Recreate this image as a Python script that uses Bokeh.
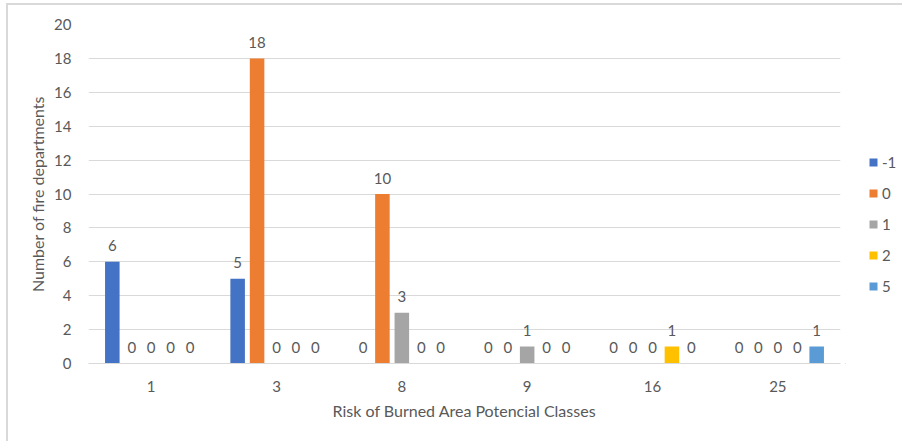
from bokeh.plotting import figure
from bokeh.layouts import row
from bokeh.models import ColumnDataSource, FactorRange, Legend, LegendItem
from bokeh.transform import dodge
from bokeh.embed import file_html
from bokeh.resources import INLINE

# Risk classes on the x axis and one series per class value
categories = ["1", "3", "8", "9", "16", "25"]
series_names = ["-1", "0", "1", "2", "5"]
values_m1 = [6, 5, 0, 0, 0, 0]
values_0 = [0, 18, 10, 0, 0, 0]
values_1 = [0, 0, 3, 1, 0, 0]
values_2 = [0, 0, 0, 0, 1, 0]
values_5 = [0, 0, 0, 0, 0, 1]
y_ticks = [0, 2, 4, 6, 8, 10, 12, 14, 16, 18, 20]

colors = ["#4472C4", "#ED7D31", "#A5A5A5", "#FFC000", "#5B9BD5"]
FONT = "Lato"
TEXT_COLOR = "#595959"
GRID_COLOR = "#D9D9D9"

source = ColumnDataSource(dict(
    cat=categories,
    s_m1=values_m1, s_0=values_0, s_1=values_1, s_2=values_2, s_5=values_5,
    l_m1=[str(v) for v in values_m1], l_0=[str(v) for v in values_0],
    l_1=[str(v) for v in values_1], l_2=[str(v) for v in values_2],
    l_5=[str(v) for v in values_5],
))
cols = ["s_m1", "s_0", "s_1", "s_2", "s_5"]
lab_cols = ["l_m1", "l_0", "l_1", "l_2", "l_5"]

p = figure(
    width=837, height=436,
    x_range=FactorRange(*categories, range_padding=0),
    y_range=(0, 20),
    output_backend="svg", toolbar_location=None,
    min_border_left=80, min_border_right=5,
    min_border_top=19, min_border_bottom=78,
)
p.outline_line_color = None
p.background_fill_color = "white"
p.border_fill_color = "white"

pitch = 0.155
bar_w = 0.116
for i, (c, lc, color) in enumerate(zip(cols, lab_cols, colors)):
    off = (i - 2) * pitch
    p.vbar(x=dodge("cat", off, range=p.x_range), top=c, width=bar_w,
           source=source, fill_color=color, line_color=None)
    p.text(x=dodge("cat", off, range=p.x_range), y=c, text=lc, source=source,
           text_align="center", text_baseline="middle", y_offset=-16,
           text_font={"value": FONT}, text_font_size="15px", text_color=TEXT_COLOR)

p.yaxis.ticker = y_ticks
p.yaxis.axis_line_color = None
p.yaxis.major_tick_line_color = None
p.yaxis.minor_tick_line_color = None
p.yaxis.major_label_standoff = 11
p.yaxis.axis_label = "Number of fire departments"
p.yaxis.axis_label_standoff = 4

p.xaxis.axis_line_color = GRID_COLOR
p.xaxis.major_tick_line_color = None
p.xaxis.minor_tick_line_color = None
p.xaxis.major_label_standoff = 11
p.xaxis.axis_label = "Risk of Burned Area Potencial Classes"
p.xaxis.axis_label_standoff = 6

for ax in (p.xaxis, p.yaxis):
    ax.major_label_text_font = FONT
    ax.major_label_text_font_size = "15px"
    ax.major_label_text_color = TEXT_COLOR
    ax.axis_label_text_font = FONT
    ax.axis_label_text_font_size = "16px"
    ax.axis_label_text_font_style = "normal"
    ax.axis_label_text_color = TEXT_COLOR

p.xgrid.grid_line_color = None
p.ygrid.grid_line_color = GRID_COLOR
p.ygrid.grid_line_width = 1

# narrow side panel that carries the series legend
lg = figure(
    width=57, height=436, x_range=(0, 1), y_range=(0, 1),
    output_backend="svg", toolbar_location=None,
    min_border=0, outline_line_color=None,
)
lg.axis.visible = False
lg.grid.visible = False
lg.border_fill_color = "white"
items = []
for name, color in zip(series_names, colors):
    # proxy bar kept outside the visible range; it only feeds the legend swatch
    r = lg.vbar(x=[-5], top=[-5], width=0.1, fill_color=color, line_color=None)
    items.append(LegendItem(label=name, renderers=[r]))
legend = Legend(items=items, location=(23, 68), background_fill_alpha=0,
                border_line_color=None, label_text_font=FONT,
                label_text_font_size="15px", label_text_color=TEXT_COLOR,
                glyph_width=10, glyph_height=10, spacing=13, label_standoff=4,
                label_height=18, padding=0, margin=0)
lg.add_layout(legend, "center")

layout = row(p, lg, spacing=0)
# light chart frame on the top and left edges
layout.styles = {
    "margin-left": "6px", "margin-top": "3px",
    "border-left": "2px solid #D9D9D9", "border-top": "2px solid #D9D9D9",
}

open("out.html", "w").write(file_html(layout, INLINE))
